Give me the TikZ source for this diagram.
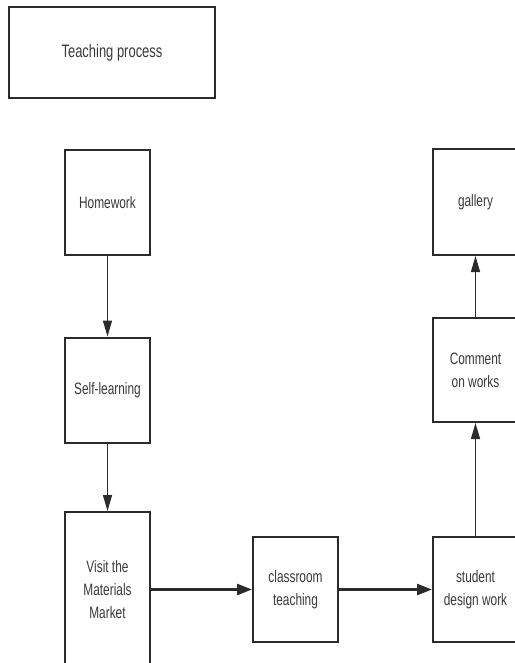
\documentclass[tikz,border=0pt]{standalone}
\usepackage{fontspec}
\setmainfont{Liberation Sans}[FakeStretch=0.72]
\usetikzlibrary{arrows.meta}
\definecolor{ink}{HTML}{2B2B2B}
\definecolor{txt}{HTML}{3A3A3A}
\tikzset{
  box/.style={draw=ink, line width=2pt, fill=white, minimum width=85pt, minimum height=105pt,
    align=center, text=txt, font=\fontsize{16.5}{23}\selectfont, inner sep=2pt},
  vline/.style={draw=ink, line width=1.4pt, -{Triangle[length=16pt,width=9pt]}},
  hline/.style={draw=ink, line width=2.6pt, -{Triangle[length=15pt,width=11pt]}}
}
\begin{document}
\begin{tikzpicture}[x=1pt,y=-1pt]
\useasboundingbox[fill=white] (0,0) rectangle (514,663);
\node[box, minimum width=206pt, minimum height=91pt, font=\fontsize{18}{22}\selectfont] (tp) at (112,52.5) {Teaching process};
\node[box] (hw) at (107.5,202.5) {Homework};
\node[box] (sl) at (107.5,390) {Self-learning};
\node[box, minimum height=156pt] (vm) at (107.5,590) {Visit the\\Materials\\Market};
\node[box] (ct) at (295.5,589.5) {classroom\\teaching};
\node[box] (sd) at (475.5,589.5) {student\\design work};
\node[box, minimum height=104pt] (cw) at (475.5,370) {Comment\\on works};
\node[box, minimum height=106pt] (ga) at (475.5,202) {gallery};
\draw[vline] (hw) -- (sl);
\draw[vline] (sl) -- (vm);
\draw[hline] (vm.east |- ct) -- (ct);
\draw[hline] (ct) -- (sd);
\draw[vline] (sd) -- (cw);
\draw[vline] (cw) -- (ga);
\end{tikzpicture}
\end{document}
